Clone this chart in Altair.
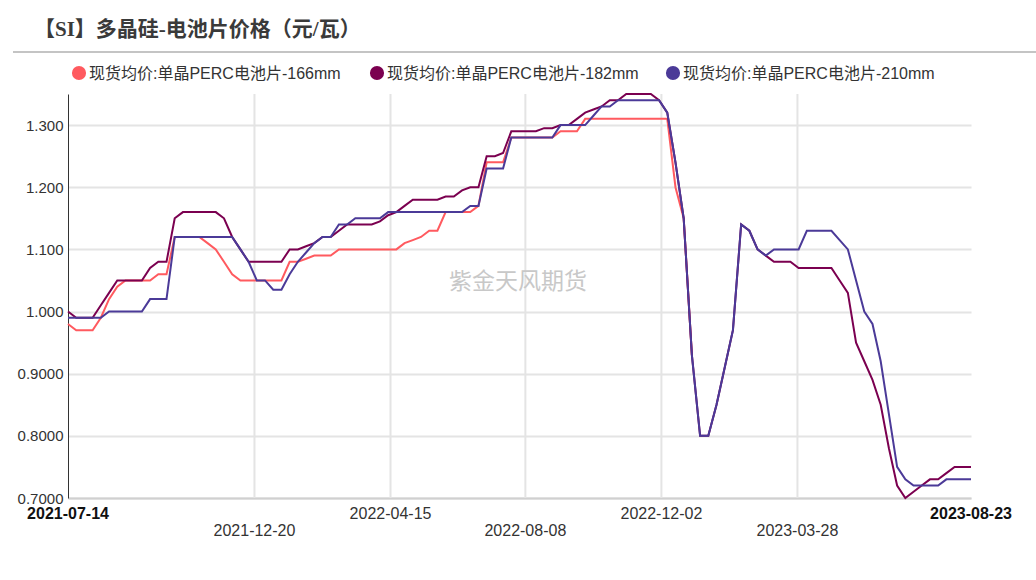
import altair as alt
import pandas as pd

# ---------------- data ----------------
series_names = ["现货均价:单晶PERC电池片-166mm", "现货均价:单晶PERC电池片-182mm", "现货均价:单晶PERC电池片-210mm"]
series_colors = ["#FF5A5F", "#7B0050", "#4B3A98"]

dates = pd.date_range("2021-07-14", "2023-08-23", freq="7D").strftime("%Y-%m-%d").tolist()

s166 = [0.98, 0.97, 0.97, 0.97, 0.99, 1.02, 1.04, 1.05, 1.05, 1.05,
        1.05, 1.06, 1.06, 1.12, 1.12, 1.12, 1.12, 1.11, 1.10, 1.08,
        1.06, 1.05, 1.05, 1.05, 1.05, 1.05, 1.05, 1.08, 1.08, 1.085,
        1.09, 1.09, 1.09, 1.10, 1.10, 1.10, 1.10, 1.10, 1.10, 1.10,
        1.10, 1.11, 1.115, 1.12, 1.13, 1.13, 1.16, 1.16, 1.16, 1.16,
        1.17, 1.24, 1.24, 1.24, 1.28, 1.28, 1.28, 1.28, 1.28, 1.28,
        1.29, 1.29, 1.29, 1.31, 1.31, 1.31, 1.31, 1.31, 1.31, 1.31,
        1.31, 1.31, 1.31, 1.31, 1.20, 1.15, 0.93] + [None] * 34

s182 = [1.00, 0.99, 0.99, 0.99, 1.01, 1.03, 1.05, 1.05, 1.05, 1.05,
        1.07, 1.08, 1.08, 1.15, 1.16, 1.16, 1.16, 1.16, 1.16, 1.15,
        1.12, 1.10, 1.08, 1.08, 1.08, 1.08, 1.08, 1.10, 1.10, 1.105,
        1.11, 1.12, 1.12, 1.13, 1.14, 1.14, 1.14, 1.14, 1.145, 1.155,
        1.16, 1.17, 1.18, 1.18, 1.18, 1.18, 1.185, 1.185, 1.195, 1.20,
        1.20, 1.25, 1.25, 1.255, 1.29, 1.29, 1.29, 1.29, 1.295, 1.295,
        1.30, 1.30, 1.31, 1.32, 1.325, 1.33, 1.34, 1.34, 1.35, 1.35,
        1.35, 1.35, 1.34, 1.32, 1.24, 1.15, 0.93, 0.80, 0.80, 0.85,
        0.91, 0.97, 1.14, 1.13, 1.10, 1.09, 1.08, 1.08, 1.08, 1.07,
        1.07, 1.07, 1.07, 1.07, 1.05, 1.03, 0.95, 0.92, 0.89, 0.85,
        0.78, 0.72, 0.70, 0.71, 0.72, 0.73, 0.73, 0.74, 0.75, 0.75,
        0.75]

s210 = [0.99, 0.99, 0.99, 0.99, 0.99, 1.00, 1.00, 1.00, 1.00, 1.00,
        1.02, 1.02, 1.02, 1.12, 1.12, 1.12, 1.12, 1.12, 1.12, 1.12,
        1.12, 1.10, 1.08, 1.05, 1.05, 1.035, 1.035, 1.06, 1.08, 1.095,
        1.11, 1.12, 1.12, 1.14, 1.14, 1.15, 1.15, 1.15, 1.15, 1.16,
        1.16, 1.16, 1.16, 1.16, 1.16, 1.16, 1.16, 1.16, 1.16, 1.17,
        1.17, 1.23, 1.23, 1.23, 1.28, 1.28, 1.28, 1.28, 1.28, 1.28,
        1.30, 1.30, 1.30, 1.30, 1.315, 1.33, 1.33, 1.34, 1.34, 1.34,
        1.34, 1.34, 1.34, 1.32, 1.24, 1.15, 0.93, 0.80, 0.80, 0.85,
        0.91, 0.97, 1.14, 1.13, 1.10, 1.09, 1.10, 1.10, 1.10, 1.10,
        1.13, 1.13, 1.13, 1.13, 1.115, 1.10, 1.05, 1.00, 0.98, 0.92,
        0.835, 0.75, 0.73, 0.72, 0.72, 0.72, 0.72, 0.73, 0.73, 0.73,
        0.73]

y_ticks = [0.7, 0.8, 0.9, 1.0, 1.1, 1.2, 1.3]
tick_dates = ["2021-07-14", "2021-12-20", "2022-04-15", "2022-08-08", "2022-12-02", "2023-03-28", "2023-08-23"]
tick_row = [1, 2, 1, 2, 1, 2, 1]
tick_bold = [True, False, False, False, False, False, True]

title_text = "【SI】多晶硅-电池片价格（元/瓦）"
watermark = "紫金天风期货"

# ---------------- tables ----------------
rows = []
for name, vals in zip(series_names, [s166, s182, s210]):
    for d, v in zip(dates, vals):
        if v is not None:
            rows.append({"date": d, "value": v, "series": name})
df = pd.DataFrame(rows)

ticks_df = pd.DataFrame({"date": tick_dates, "label": tick_dates, "row": tick_row, "bold": tick_bold})
grid_df = ticks_df.iloc[1:-1]

W, H = 903, 404
FONT = "Liberation Sans, Noto Sans CJK SC, sans-serif"

xenc = alt.X("date:T", title=None, scale=alt.Scale(nice=False),
             axis=alt.Axis(labels=False, ticks=False, grid=False, domain=True,
                           domainColor="#d0d0d0", domainWidth=2))
yenc = alt.Y("value:Q", title=None,
             scale=alt.Scale(domain=[0.7, 1.35], nice=False, zero=False),
             axis=alt.Axis(values=y_ticks, format=".4g", ticks=False, tickSize=0,
                           labelPadding=5, labelFontSize=15, labelFont=FONT,
                           labelColor="#333333", domainColor="#333333", domainWidth=1,
                           grid=True, gridColor="#e4e4e4", gridWidth=2))

color_scale = alt.Scale(domain=series_names, range=series_colors)

grid = alt.Chart(grid_df).mark_rule(color="#e4e4e4", strokeWidth=2).encode(x=xenc)

line_layers = []
for name in series_names:
    line_layers.append(
        alt.Chart(df).transform_filter(alt.datum.series == name)
        .mark_line(strokeWidth=2)
        .encode(x=xenc, y=yenc,
                color=alt.Color("series:N", scale=color_scale, legend=None))
    )

# legend drawn as marks (circle + label per series)
legend_sym_x = [11, 309, 605]
legend_layers = []
for name, col, lx in zip(series_names, series_colors, legend_sym_x):
    item = pd.DataFrame({"label": [name]})
    legend_layers.append(
        alt.Chart(item).mark_circle(size=200, opacity=1, color=col).encode(
            x=alt.value(lx), y=alt.value(-21)))
    legend_layers.append(
        alt.Chart(item).mark_text(fontSize=16, font=FONT, color="#333333",
                                  align="left", baseline="middle").encode(
            text="label:N", x=alt.value(lx + 10), y=alt.value(-20)))

def tick_text(sub, ypix, weight):
    return alt.Chart(sub).mark_text(fontSize=16, font=FONT, color="#111111" if weight == "bold" else "#333333",
                                    fontWeight=weight, baseline="middle", align="center").encode(
        x=xenc, y=alt.value(ypix), text="label:N")

t_bold = tick_text(ticks_df[ticks_df["bold"]], 420, "bold")
t_row1 = tick_text(ticks_df[(~ticks_df["bold"]) & (ticks_df["row"] == 1)], 420, "normal")
t_row2 = tick_text(ticks_df[(~ticks_df["bold"]) & (ticks_df["row"] == 2)], 437, "normal")

wm = alt.Chart(pd.DataFrame({"t": [watermark]})).mark_text(
    fontSize=23, font=FONT, color="#c8c8c8", align="center", baseline="middle").encode(
    text="t:N", x=alt.value(450), y=alt.value(188))

title = alt.Chart(pd.DataFrame({"t": [title_text]})).mark_text(
    fontSize=21, font="Liberation Serif, Noto Sans CJK SC, serif", fontWeight="bold",
    color="#3a3a3a", align="left", baseline="middle").encode(
    text="t:N", x=alt.value(-34), y=alt.value(-64))

title_rule = alt.Chart(pd.DataFrame({"a": [0]})).mark_rule(color="#c4c4c4", strokeWidth=2).encode(
    x=alt.value(-55), x2=alt.value(968), y=alt.value(-42))

chart = alt.layer(grid, *line_layers, *legend_layers, t_bold, t_row1, t_row2, wm, title, title_rule).properties(
    width=W, height=H,
    padding={"left": 68, "top": 94, "right": 65, "bottom": 82},
    autosize=alt.AutoSizeParams(type="none"),
    background="white",
).configure_view(stroke=None)

chart.save("out.html", embed_options={"renderer": "svg", "actions": False})
